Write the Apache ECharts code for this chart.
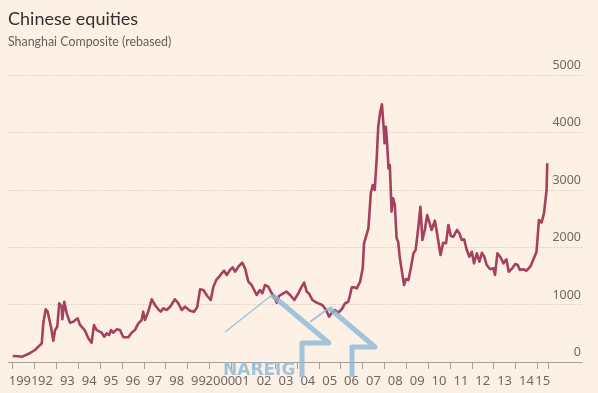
<!DOCTYPE html>
<html>
<head>
<meta charset="utf-8">
<script src="https://cdn.jsdelivr.net/npm/echarts@6/dist/echarts.min.js"></script>
<style>
html,body{margin:0;padding:0;background:#fdf1e5;}
#chart{width:598px;height:393px;}
</style>
</head>
<body>
<div id="chart"></div>
<script>
// decimal years of each sample
const years = [
1991.00,1991.26,1991.41,1991.71,1992.02,1992.33,1992.40,1992.51,1992.60,1992.75,1992.86,1992.94,
1993.04,1993.13,1993.24,1993.27,1993.36,1993.47,1993.62,1993.77,1993.85,1993.97,
1994.08,1994.31,1994.46,1994.61,1994.72,1994.84,
1995.07,1995.19,1995.30,1995.41,1995.50,1995.60,1995.76,1995.91,
1996.06,1996.29,1996.44,1996.59,1996.75,1996.90,1996.97,
1997.05,1997.20,1997.36,1997.51,1997.66,1997.77,1997.89,
1998.04,1998.20,1998.42,1998.58,1998.73,1998.88,
1999.11,1999.29,1999.44,1999.57,1999.72,1999.90,
2000.06,2000.18,2000.33,2000.45,2000.56,2000.67,2000.79,2000.94,
2001.06,2001.17,2001.32,2001.50,2001.63,2001.78,2001.93,
2002.01,2002.16,2002.31,2002.42,2002.54,2002.69,2002.85,2002.97,
2003.08,2003.18,2003.38,2003.53,2003.69,2003.88,
2004.07,2004.22,2004.33,2004.45,2004.55,2004.71,2004.83,2004.98,
2005.16,2005.32,2005.47,2005.59,2005.74,2005.89,
2006.05,2006.20,2006.35,2006.43,2006.51,2006.63,2006.74,2006.89,
2007.01,2007.07,2007.16,2007.27,2007.38,2007.47,2007.56,2007.65,2007.72,2007.80,2007.89,2007.97,
2008.01,2008.07,2008.13,2008.19,2008.25,2008.33,2008.40,2008.48,2008.56,2008.63,2008.71,2008.79,2008.90,2008.99,
2009.10,2009.21,2009.33,2009.43,2009.54,2009.65,2009.74,2009.85,2009.96,
2010.05,2010.16,2010.31,2010.41,2010.57,2010.69,2010.82,2010.93,
2011.04,2011.16,2011.32,2011.43,2011.54,2011.65,2011.77,2011.89,
2012.00,2012.10,2012.23,2012.35,2012.46,2012.57,2012.68,2012.84,2012.99,
2013.06,2013.17,2013.30,2013.45,2013.58,2013.69,2013.85,2013.99,
2014.10,2014.20,2014.35,2014.50,2014.69,2014.84,2014.96,
2015.07,2015.14,2015.19,2015.30,2015.42,2015.45
];
// Shanghai Composite (rebased)
const values = [
104,100,90,139,209,325,674,918,877,615,371,557,
615,1022,963,744,1050,848,685,702,674,761,
645,546,413,336,645,557,
511,441,499,470,557,511,569,557,
430,430,511,557,674,732,877,
732,877,1092,993,918,877,935,
906,963,1092,1022,906,963,
894,877,953,1266,1254,1150,
1080,1312,1440,1486,1545,1590,1516,1603,
1650,1573,1660,1730,1632,1399,1341,
1359,1167,1254,1197,1341,1312,1197,1127,
1033,1150,1197,1225,1167,1080,
1197,1312,1381,1225,1197,1080,1050,1022,
993,918,789,859,906,859,
918,1022,1050,1167,1300,1301,1283,1399,
1632,2068,2096,2329,2939,3083,2996,3548,4099,4332,4489,4071,
3810,4099,3780,3374,3432,2618,2852,2735,2155,2096,1806,1777,1341,1446,
1428,1632,1893,1951,2300,2705,2125,2300,2561,
2543,2300,2462,2242,1864,2078,2068,2387,
2195,2183,2300,2242,2125,2137,1951,1834,
1921,1719,1893,1747,1904,1834,1690,1615,1632,
1515,1893,1834,1719,1789,1573,1632,1707,
1690,1603,1615,1590,1672,1806,1921,
2474,2503,2427,2590,2996,3461
];
// x-axis tick labels (one per year, placed mid-year)
const yearLabels = ['1991','92','93','94','95','96','97','98','99','2000','01','02','03','04','05','06','07','08','09','10','11','12','13','14','15'];
const yearTicks = [1991,1992,1993,1994,1995,1996,1997,1998,1999,2000,2001,2002,2003,2004,2005,2006,2007,2008,2009,2010,2011,2012,2013,2014,2015,2015.49];
const labelPos = [1991.5,1992.5,1993.5,1994.5,1995.5,1996.5,1997.5,1998.5,1999.5,2000.5,2001.5,2002.5,2003.5,2004.5,2005.5,2006.5,2007.5,2008.5,2009.5,2010.5,2011.5,2012.5,2013.5,2014.5,2015.245];

const seriesData = years.map((y, i) => [y, values[i]]);
const labelMap = {};
labelPos.forEach((p, i) => { labelMap[p.toFixed(3)] = yearLabels[i]; });
const fmt = v => labelMap[Number(v).toFixed(3)] || '';

const xMin = 1990.8, xMax = 2017.04;
const labelStyle = {fontFamily: 'Noto Sans', fontSize: 13, color: '#6f6863'};
const wm = 'rgba(140,184,212,0.8)';
const chart = echarts.init(document.getElementById('chart'), null, {renderer: 'canvas'});
chart.setOption({
  backgroundColor: '#fdf1e5',
  animation: false,
  title: {
    text: 'Chinese equities',
    subtext: 'Shanghai Composite (rebased)',
    left: 3, top: 5, itemGap: 8,
    textStyle: {fontFamily: 'Lato', fontSize: 18, fontWeight: 'normal', color: '#33302e'},
    subtextStyle: {fontFamily: 'Lato', fontSize: 12.4, color: '#66605c'}
  },
  grid: {left: 8.3, right: 16, top: 75, bottom: 31, containLabel: false},
  xAxis: [{
    type: 'value', min: xMin, max: xMax,
    axisLine: {show: true, lineStyle: {color: '#a7a09a', width: 1}},
    axisTick: {show: true, length: 7, customValues: yearTicks, lineStyle: {color: '#a7a09a'}},
    axisLabel: Object.assign({customValues: labelPos.slice(1), margin: 13, showMinLabel: true, showMaxLabel: true, hideOverlap: false, formatter: fmt}, labelStyle),
    splitLine: {show: false}
  }, {
    type: 'value', min: xMin, max: xMax, position: 'bottom',
    axisLine: {show: false}, axisTick: {show: false}, splitLine: {show: false},
    axisLabel: Object.assign({customValues: labelPos.slice(0, 1), margin: 13, showMinLabel: true, formatter: fmt}, labelStyle)
  }],
  yAxis: {
    type: 'value', position: 'right', min: 0, max: 5000, interval: 1000,
    axisLine: {show: false}, axisTick: {show: false},
    axisLabel: {
      inside: true, margin: 1, verticalAlign: 'bottom', padding: [0, 0, 3, 0],
      fontFamily: 'Noto Sans', fontSize: 12.5, color: '#6f6863',
      formatter: v => String(v)
    },
    splitLine: {show: true, lineStyle: {color: '#c9bdb2', type: [1, 2], width: 1}}
  },
  series: [{
    type: 'line', data: seriesData, showSymbol: false, smooth: false, xAxisIndex: 0,
    lineStyle: {color: '#a5405f', width: 2.6, join: 'round'}
  }],
  graphic: [
    {type: 'polyline', z: 100, shape: {points: [[225,332],[272,295]]}, style: {stroke: wm, lineWidth: 1.5, fill: null}},
    {type: 'polyline', z: 100, shape: {points: [[272,295],[329,343],[302,343],[302,377]]}, style: {stroke: wm, lineWidth: 5, fill: null, lineJoin: 'round'}},
    {type: 'polyline', z: 100, shape: {points: [[310,322],[329,308]]}, style: {stroke: wm, lineWidth: 2, fill: null}},
    {type: 'polyline', z: 100, shape: {points: [[329,308],[375,347],[352,347],[352,377]]}, style: {stroke: wm, lineWidth: 5, fill: null, lineJoin: 'round'}},
    {type: 'text', z: 100, left: 223, top: 362, style: {text: 'NAREIG', fill: wm, font: 'bold 17px "DejaVu Sans"'}}
  ]
});
</script>
</body>
</html>
